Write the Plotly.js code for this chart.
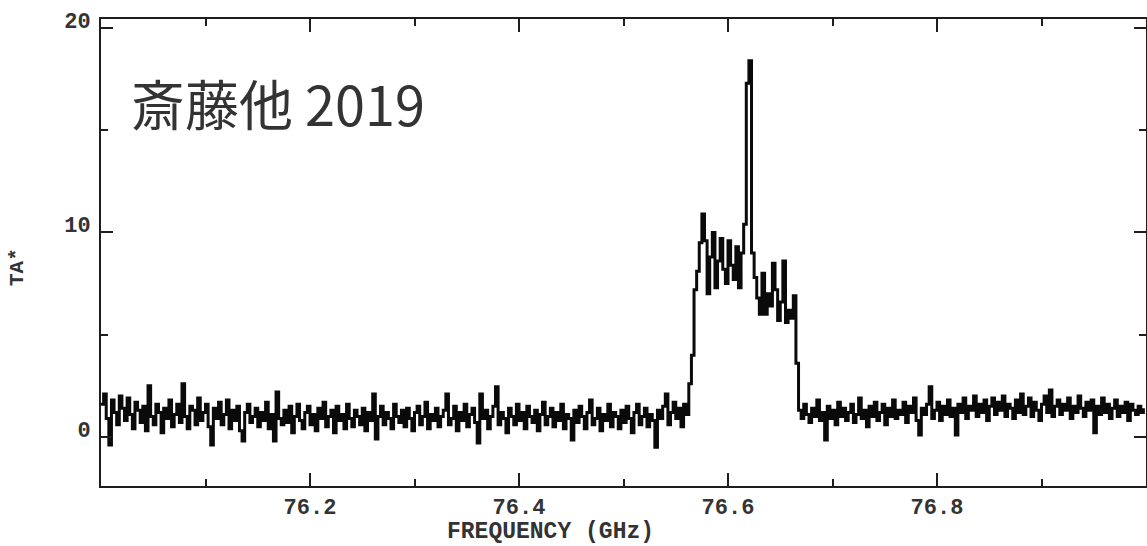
<!DOCTYPE html>
<html>
<head>
<meta charset="utf-8">
<script src="https://cdn.plot.ly/plotly-3.0.1.min.js"></script>
<style>html,body{margin:0;padding:0;background:#fff;}#chart{width:1147px;height:546px;}</style>
</head>
<body>
<div id="chart"></div>
<script>
// Channel grid (GHz)
const freqStart = 76.0;
const channelWidth = 0.0025;

// Antenna temperature TA* per channel
const baselineLow = [
  1.6, 2.1, 0.9, -0.4, 1.8, 1.2, 0.6, 2.0, 1.4, 0.8,
  1.9, 1.1, 0.4, 1.7, 1.3, 0.7, 1.5, 0.3, 2.5, 1.0,
  0.6, 1.6, 1.2, 0.2, 1.4, 0.9, 1.8, 0.5, 1.1, 1.6,
  0.7, 2.6, 1.0, 0.4, 1.5, 1.3, 0.6, 1.9, 0.8, 1.2,
  1.6, 0.5, -0.4, 1.4, 0.9, 1.7, 0.6, 1.1, 1.8, 0.4,
  1.3, 0.8, 1.5, 0.3, -0.2, 1.2, 1.6, 0.7, 1.0, 1.4,
  0.5, 1.2, 0.8, 1.7, 0.4, 1.1, -0.2, 2.2, 0.9, 0.6,
  1.3, 0.7, 1.5, 0.2, 1.0, 1.6, 0.8, 0.4, 1.2, 1.5,
  0.6, 1.1, 0.3, 1.4, 0.9, 1.7, 0.5, 1.0, 1.3, 0.2,
  1.5, 0.8, 1.1, 0.4, 1.6, 0.9, 0.5, 1.3, 1.0, 0.6,
  1.4, 0.3, 1.2, 0.8, 2.1, -0.1, 1.0, 1.5, 0.6, 1.2,
  0.9, 0.4, 1.6, 1.0, 0.7, 1.3, 0.5, 1.4, 0.9, 0.3,
  1.2, 1.5, 0.6, 1.0, 1.7, 0.4, 1.1, 0.8, 1.4, 0.5,
  1.0, 1.3, 2.1, 0.6, 0.9, 1.5, 0.3, 1.2, 0.8, 1.6,
  0.5, 1.1, 1.4, 0.7, -0.3, 2.1, 0.9, 1.3, 0.4, 1.0,
  1.5, 2.45, 0.6, 1.2, 0.9, 0.2, 1.4, 1.0, 0.6, 1.6,
  0.8, 1.2, 0.4, 1.5, 1.0, 0.7, 1.3, 0.3, 1.1, 1.7,
  0.6, 1.0, 1.4, 0.5, 1.2, 0.8, 1.6, 0.4, 1.1, 0.9,
  -0.15, 1.3, 0.7, 1.5, 1.0, 0.4, 1.2, 1.8, 0.6, 0.9,
  1.4, 0.3, 1.1, 0.8, 1.6, 0.5, 1.2, 1.0, 0.4, 1.3,
  0.7, 1.5, 0.9, 0.2, 1.2, 1.6, 0.6, 1.0, 1.4, 0.5,
  1.1, 0.8, -0.5, 1.3, 0.9, 1.5, 2.1, 0.6, 1.2, 1.7,
  0.9, 1.4, 0.5, 1.6, 1.1
];
const lineProfile = [
  2.6, 4.0, 7.2, 8.1, 9.5, 10.9, 9.6, 7.0, 8.8, 10.0,
  7.3, 8.6, 9.7, 8.2, 7.5, 9.6, 8.4, 7.7, 9.3, 7.3,
  9.0, 10.4, 17.3, 18.4, 9.0, 7.8, 6.8, 6.0, 8.0, 6.0,
  7.0, 6.4, 8.5, 7.2, 5.7, 6.6, 8.6, 5.6, 6.2, 5.8,
  6.9, 3.6
];
const baselineHigh = [
  1.3, 0.9, 1.6, 1.1, 0.7, 1.4, 1.0, 1.8, 0.8, 1.2,
  -0.15, 1.5, 0.9, 1.3, 0.6, 1.7, 1.0, 1.4, 0.8, 1.2,
  1.6, 0.7, 1.1, 1.9, 0.9, 1.3, 0.5, 1.5, 1.0, 1.7,
  0.8, 1.2, 1.6, 0.6, 1.4, 1.0, 1.8, 0.9, 1.3, 1.1,
  1.7, 0.7, 1.5, 1.2, 1.9, 0.8, 0.1, 1.4, 1.1, 1.6,
  2.45, 0.9, 1.3, 1.7, 0.8, 1.5, 1.1, 1.8, 1.0, 1.4,
  0.1, 1.6, 1.2, 1.9, 0.9, 1.5, 1.3, 2.0, 1.0, 1.6,
  1.2, 1.8, 0.8, 1.5, 1.9, 1.1, 1.7, 1.3, 2.0, 1.0,
  1.6, 1.4, 0.9, 1.8, 1.2, 2.1, 1.1, 1.5, 1.9, 1.0,
  1.7, 1.3, 0.8, 1.6, 2.0, 1.2, 2.3, 1.0, 1.5, 1.8,
  1.1, 1.6, 1.3, 1.9, 0.9, 1.5, 1.2, 2.0, 1.4, 1.0,
  1.7, 1.3, 1.8, 0.2, 1.5, 1.1, 1.9, 1.2, 1.6, 0.9,
  1.4, 1.8, 1.0, 1.5, 1.2, 1.7, 0.8, 1.6, 1.3, 1.1,
  1.5, 1.2, 1.4
];
const taStar = baselineLow.concat(lineProfile, baselineHigh);

const xTickVals = [76.2, 76.4, 76.6, 76.8];
const xTickText = ['76.2', '76.4', '76.6', '76.8'];
const yTickVals = [0, 10, 20];
const yTickText = ['0', '10', '20'];

const ink = '#1e1e1e';
const textInk = '#333333';
const monoFont = {family: 'Liberation Mono, Courier New, monospace', size: 22, color: textInk, weight: 'bold'};

const trace = {
  type: 'scatter',
  mode: 'lines',
  x0: freqStart,
  dx: channelWidth,
  y: taStar,
  line: {color: '#0a0a0a', width: 3, shape: 'hv'},
  hoverinfo: 'x+y'
};

const layout = {
  width: 1147,
  height: 546,
  margin: {l: 101, r: 1, t: 19, b: 60},
  paper_bgcolor: '#ffffff',
  plot_bgcolor: '#ffffff',
  showlegend: false,
  xaxis: {
    range: [76.0, 77.0],
    tickmode: 'array',
    tickvals: xTickVals,
    ticktext: xTickText,
    ticks: 'inside',
    ticklen: 13,
    tickwidth: 2,
    tickcolor: ink,
    minor: {dtick: 0.1, tick0: 76.0, ticks: 'inside', ticklen: 7, tickwidth: 2, tickcolor: ink, showgrid: false},
    showline: true,
    linewidth: 2,
    linecolor: ink,
    mirror: 'allticks',
    showgrid: false,
    zeroline: false,
    tickfont: monoFont,
    ticklabelstandoff: 0
  },
  yaxis: {
    range: [-2.4, 20.44],
    tickmode: 'array',
    tickvals: yTickVals,
    ticktext: yTickText,
    ticks: 'inside',
    ticklen: 12,
    tickwidth: 2,
    tickcolor: ink,
    minor: {dtick: 5, tick0: 0, ticks: 'inside', ticklen: 7, tickwidth: 2, tickcolor: ink, showgrid: false},
    showline: true,
    linewidth: 2,
    linecolor: ink,
    mirror: 'allticks',
    showgrid: false,
    zeroline: false,
    tickfont: monoFont,
    ticklabelshift: -8,
    ticklabelstandoff: 4
  },
  annotations: [
    {
      text: 'FREQUENCY (GHz)',
      xref: 'paper', yref: 'paper',
      x: 0.4306, y: -0.0985,
      xanchor: 'center', yanchor: 'middle',
      showarrow: false,
      font: {family: 'Liberation Mono, Courier New, monospace', size: 23, color: textInk, weight: 'bold'}
    },
    {
      text: 'TA*',
      xref: 'paper', yref: 'paper',
      x: -0.0794, y: 0.469,
      xanchor: 'center', yanchor: 'middle',
      textangle: -90,
      showarrow: false,
      font: {family: 'Liberation Mono, Courier New, monospace', size: 21, color: textInk, weight: 'bold'}
    },
    {
      text: '斎藤他 2019',
      xref: 'paper', yref: 'paper',
      x: 0.0268, y: 0.822,
      xanchor: 'left', yanchor: 'middle',
      showarrow: false,
      font: {family: 'Noto Sans CJK JP, Noto Sans, sans-serif', size: 54, color: '#333333'}
    }
  ]
};

Plotly.newPlot('chart', [trace], layout, {displayModeBar: false, staticPlot: true});
</script>
</body>
</html>
